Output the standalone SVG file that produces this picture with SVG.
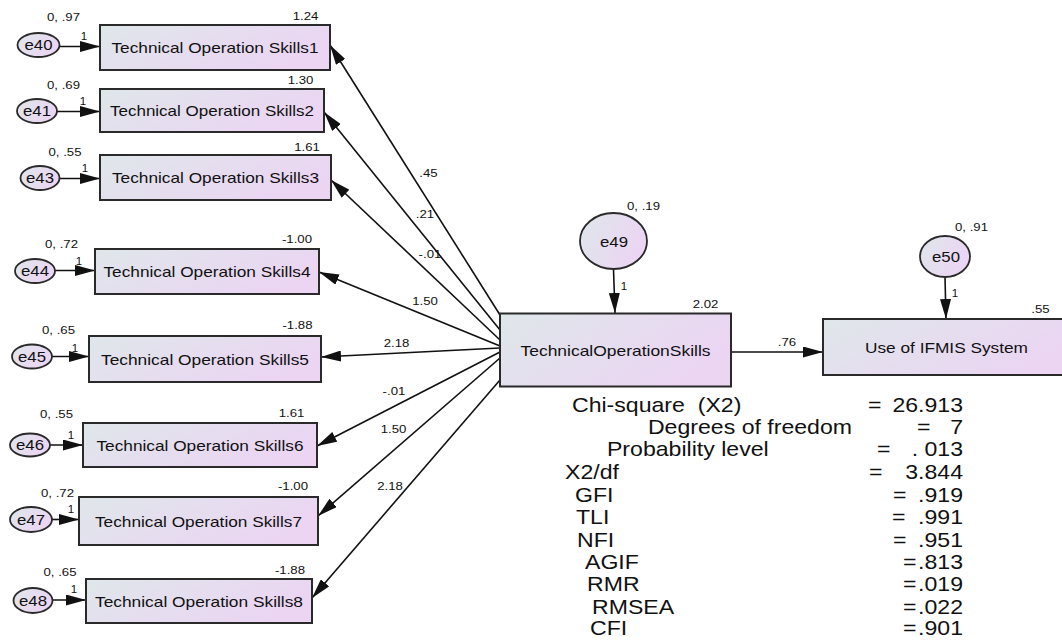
<svg xmlns="http://www.w3.org/2000/svg" width="1062" height="640" viewBox="0 0 1062 640">
<style>
text{font-family:"Liberation Sans",Arial,sans-serif;fill:#111}
.box{fill:url(#g);stroke:#2a2a2a;stroke-width:2}
.ell{fill:url(#g);stroke:#2a2a2a;stroke-width:1.8}
.bt{font-size:15px;text-anchor:middle}
.et{font-size:14px;text-anchor:middle}
.n{font-size:11.5px;text-anchor:middle}
.c line{stroke:#111;stroke-width:1.6;marker-end:url(#ah)}
.st{font-size:20px;white-space:pre}
.r{text-anchor:end}
</style>
<defs>
<linearGradient id="g" x1="0" y1="0" x2="1" y2="0.4">
<stop offset="0" stop-color="#dfe7ea"/>
<stop offset="1" stop-color="#ebd5f3"/>
</linearGradient>
<marker id="ah" markerUnits="userSpaceOnUse" markerWidth="20" markerHeight="11" refX="20" refY="5.5" orient="auto">
<path d="M0,0 L20,5.5 L0,11 z" fill="#111"/>
</marker>
</defs>
<rect width="1062" height="640" fill="#fff"/>

<g class="c" id="connectors">
<line x1="59.5" y1="46.5" x2="100" y2="46.5"/>
<line x1="57" y1="111.5" x2="100" y2="111.5"/>
<line x1="59.5" y1="178.5" x2="100" y2="178.5"/>
<line x1="55" y1="270.5" x2="95" y2="270.5"/>
<line x1="52" y1="356.5" x2="89" y2="356.5"/>
<line x1="50" y1="445" x2="83" y2="445"/>
<line x1="52" y1="519.5" x2="79" y2="519.5"/>
<line x1="52.5" y1="600" x2="86" y2="600"/>
<line x1="500" y1="315" x2="330" y2="45"/>
<line x1="500" y1="330" x2="324" y2="112"/>
<line x1="500" y1="340" x2="331" y2="180"/>
<line x1="500" y1="346" x2="319" y2="272"/>
<line x1="500" y1="348" x2="321" y2="357"/>
<line x1="500" y1="352" x2="317" y2="446"/>
<line x1="500" y1="358" x2="318" y2="516"/>
<line x1="500" y1="380" x2="312" y2="598"/>
<line x1="613.5" y1="269" x2="615" y2="313"/>
<line x1="945" y1="277" x2="946" y2="319"/>
<line x1="731" y1="352" x2="823" y2="352"/>
</g>

<g id="path-labels">
<text class="n" x="428.5" y="177" textLength="18.4" lengthAdjust="spacingAndGlyphs">.45</text>
<text class="n" x="425" y="218" textLength="18.4" lengthAdjust="spacingAndGlyphs">.21</text>
<text class="n" x="430" y="258" textLength="22.8" lengthAdjust="spacingAndGlyphs">-.01</text>
<text class="n" x="425" y="305" textLength="25.7" lengthAdjust="spacingAndGlyphs">1.50</text>
<text class="n" x="396.5" y="347" textLength="25.7" lengthAdjust="spacingAndGlyphs">2.18</text>
<text class="n" x="394" y="395" textLength="22.8" lengthAdjust="spacingAndGlyphs">-.01</text>
<text class="n" x="393.5" y="433" textLength="25.7" lengthAdjust="spacingAndGlyphs">1.50</text>
<text class="n" x="390" y="490" textLength="25.7" lengthAdjust="spacingAndGlyphs">2.18</text>
<text class="n" x="787" y="346" textLength="18.4" lengthAdjust="spacingAndGlyphs">.76</text>
<text class="n" x="624" y="290">1</text>
<text class="n" x="955" y="297">1</text>
<text class="n" x="84" y="40">1</text>
<text class="n" x="83" y="105">1</text>
<text class="n" x="85" y="172">1</text>
<text class="n" x="79" y="265">1</text>
<text class="n" x="75" y="351.5">1</text>
<text class="n" x="71" y="439">1</text>
<text class="n" x="71" y="513">1</text>
<text class="n" x="74" y="593">1</text>
</g>

<g id="ts1">
<rect class="box" x="100" y="25" width="230" height="45"/>
<text class="bt" x="215" y="53" textLength="207" lengthAdjust="spacingAndGlyphs">Technical Operation Skills1</text>
<text class="n" x="305.5" y="19.5" textLength="25.7" lengthAdjust="spacingAndGlyphs">1.24</text>
</g>
<g id="ts2">
<rect class="box" x="100" y="89" width="224" height="43"/>
<text class="bt" x="212" y="116" textLength="204" lengthAdjust="spacingAndGlyphs">Technical Operation Skills2</text>
<text class="n" x="300.5" y="84" textLength="25.7" lengthAdjust="spacingAndGlyphs">1.30</text>
</g>
<g id="ts3">
<rect class="box" x="100" y="155" width="231" height="45"/>
<text class="bt" x="215.5" y="183" textLength="207" lengthAdjust="spacingAndGlyphs">Technical Operation Skills3</text>
<text class="n" x="307" y="150.5" textLength="25.7" lengthAdjust="spacingAndGlyphs">1.61</text>
</g>
<g id="ts4">
<rect class="box" x="95" y="249" width="224" height="45"/>
<text class="bt" x="207" y="277" textLength="207" lengthAdjust="spacingAndGlyphs">Technical Operation Skills4</text>
<text class="n" x="297" y="243" textLength="30.1" lengthAdjust="spacingAndGlyphs">-1.00</text>
</g>
<g id="ts5">
<rect class="box" x="89" y="336" width="232" height="46"/>
<text class="bt" x="205" y="364.5" textLength="208" lengthAdjust="spacingAndGlyphs">Technical Operation Skills5</text>
<text class="n" x="297.5" y="329" textLength="30.1" lengthAdjust="spacingAndGlyphs">-1.88</text>
</g>
<g id="ts6">
<rect class="box" x="83" y="423" width="234" height="44"/>
<text class="bt" x="200" y="450.5" textLength="207" lengthAdjust="spacingAndGlyphs">Technical Operation Skills6</text>
<text class="n" x="291.5" y="417" textLength="25.7" lengthAdjust="spacingAndGlyphs">1.61</text>
</g>
<g id="ts7">
<rect class="box" x="79" y="497" width="239" height="48"/>
<text class="bt" x="198.5" y="526.5" textLength="207" lengthAdjust="spacingAndGlyphs">Technical Operation Skills7</text>
<text class="n" x="293" y="490" textLength="30.1" lengthAdjust="spacingAndGlyphs">-1.00</text>
</g>
<g id="ts8">
<rect class="box" x="86" y="579" width="226" height="44"/>
<text class="bt" x="199" y="606.5" textLength="208" lengthAdjust="spacingAndGlyphs">Technical Operation Skills8</text>
<text class="n" x="290" y="574" textLength="30.1" lengthAdjust="spacingAndGlyphs">-1.88</text>
</g>

<g id="e40">
<ellipse class="ell" cx="38.5" cy="45" rx="21" ry="12"/>
<text class="et" x="38.5" y="50" textLength="28" lengthAdjust="spacingAndGlyphs">e40</text>
<text class="n" x="63.5" y="21" textLength="33" lengthAdjust="spacingAndGlyphs">0, .97</text>
</g>
<g id="e41">
<ellipse class="ell" cx="37" cy="111" rx="20" ry="12"/>
<text class="et" x="37" y="116" textLength="28" lengthAdjust="spacingAndGlyphs">e41</text>
<text class="n" x="63.5" y="89" textLength="33" lengthAdjust="spacingAndGlyphs">0, .69</text>
</g>
<g id="e43">
<ellipse class="ell" cx="40" cy="178" rx="19.5" ry="12"/>
<text class="et" x="40" y="183" textLength="28" lengthAdjust="spacingAndGlyphs">e43</text>
<text class="n" x="65" y="156" textLength="33" lengthAdjust="spacingAndGlyphs">0, .55</text>
</g>
<g id="e44">
<ellipse class="ell" cx="35" cy="271" rx="20" ry="12"/>
<text class="et" x="35" y="276" textLength="28" lengthAdjust="spacingAndGlyphs">e44</text>
<text class="n" x="61.5" y="248" textLength="33" lengthAdjust="spacingAndGlyphs">0, .72</text>
</g>
<g id="e45">
<ellipse class="ell" cx="32" cy="356.5" rx="20" ry="12"/>
<text class="et" x="32" y="361.5" textLength="28" lengthAdjust="spacingAndGlyphs">e45</text>
<text class="n" x="58.5" y="334" textLength="33" lengthAdjust="spacingAndGlyphs">0, .65</text>
</g>
<g id="e46">
<ellipse class="ell" cx="30" cy="445" rx="20" ry="11.5"/>
<text class="et" x="30" y="450" textLength="28" lengthAdjust="spacingAndGlyphs">e46</text>
<text class="n" x="56.5" y="418" textLength="33" lengthAdjust="spacingAndGlyphs">0, .55</text>
</g>
<g id="e47">
<ellipse class="ell" cx="31" cy="519.5" rx="21" ry="12.5"/>
<text class="et" x="31" y="524.5" textLength="28" lengthAdjust="spacingAndGlyphs">e47</text>
<text class="n" x="57.5" y="497" textLength="33" lengthAdjust="spacingAndGlyphs">0, .72</text>
</g>
<g id="e48">
<ellipse class="ell" cx="33" cy="600.5" rx="19.5" ry="12.5"/>
<text class="et" x="33" y="605.5" textLength="28" lengthAdjust="spacingAndGlyphs">e48</text>
<text class="n" x="60" y="576" textLength="33" lengthAdjust="spacingAndGlyphs">0, .65</text>
</g>

<g id="e49">
<ellipse class="ell" cx="613.5" cy="241" rx="33.5" ry="28"/>
<text class="et" x="614" y="246.5" textLength="28" lengthAdjust="spacingAndGlyphs">e49</text>
<text class="n" x="643.5" y="209.5" textLength="33" lengthAdjust="spacingAndGlyphs">0, .19</text>
</g>
<g id="e50">
<ellipse class="ell" cx="945" cy="256.5" rx="25" ry="20.5"/>
<text class="et" x="946" y="262" textLength="28" lengthAdjust="spacingAndGlyphs">e50</text>
<text class="n" x="971.5" y="231" textLength="33" lengthAdjust="spacingAndGlyphs">0, .91</text>
</g>

<g id="TechnicalOperationSkills">
<rect class="box" x="500" y="313.5" width="231" height="73"/>
<text class="bt" x="615.5" y="356" textLength="190" lengthAdjust="spacingAndGlyphs">TechnicalOperationSkills</text>
<text class="n" x="705.5" y="308" textLength="25.7" lengthAdjust="spacingAndGlyphs">2.02</text>
</g>
<g id="UseOfIFMIS">
<rect class="box" x="823" y="319" width="250" height="56"/>
<text class="bt" x="946.5" y="352.5" textLength="163" lengthAdjust="spacingAndGlyphs">Use of IFMIS System</text>
<text class="n" x="1040.5" y="312.5" textLength="18.4" lengthAdjust="spacingAndGlyphs">.55</text>
</g>

<g id="fit-statistics" transform="scale(1.155,1)">
<text class="st" x="495.2" y="412">Chi-square  (X2)</text>
<text class="st" x="561" y="434">Degrees of freedom</text>
<text class="st" x="525.5" y="456">Probability level</text>
<text class="st" x="489.2" y="479">X2/df</text>
<text class="st" x="497.8" y="502">GFI</text>
<text class="st" x="498.7" y="524">TLI</text>
<text class="st" x="499.6" y="547">NFI</text>
<text class="st" x="506.5" y="569">AGIF</text>
<text class="st" x="508.2" y="591">RMR</text>
<text class="st" x="512.6" y="614">RMSEA</text>
<text class="st" x="510.8" y="635">CFI</text>
<text class="st" x="751.5" y="412">=</text><text class="st r" x="833.8" y="412">26.913</text>
<text class="st" x="793.9" y="434">=</text><text class="st r" x="833.8" y="434">7</text>
<text class="st" x="759.3" y="456">=</text><text class="st r" x="833.8" y="456">. 013</text>
<text class="st" x="752.4" y="479">=</text><text class="st r" x="833.8" y="479">3.844</text>
<text class="st" x="773.2" y="502">=</text><text class="st r" x="833.8" y="502">.919</text>
<text class="st" x="772.3" y="524">=</text><text class="st r" x="833.8" y="524">.991</text>
<text class="st" x="773.2" y="547">=</text><text class="st r" x="833.8" y="547">.951</text>
<text class="st" x="781.8" y="569">=</text><text class="st r" x="833.8" y="569">.813</text>
<text class="st" x="781.8" y="591">=</text><text class="st r" x="833.8" y="591">.019</text>
<text class="st" x="781.8" y="614">=</text><text class="st r" x="833.8" y="614">.022</text>
<text class="st" x="781.8" y="635">=</text><text class="st r" x="833.8" y="635">.901</text>
</g>
</svg>
